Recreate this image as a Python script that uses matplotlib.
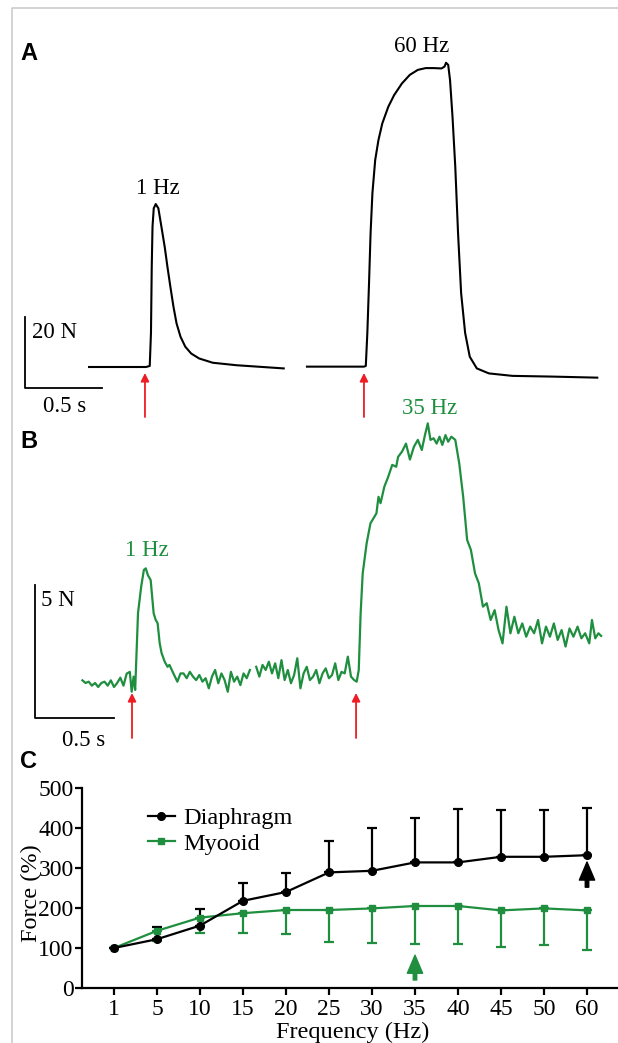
import matplotlib
matplotlib.use('Agg')
import matplotlib.pyplot as plt
from matplotlib.lines import Line2D

plt.rcParams['font.family'] = ['Liberation Serif', 'DejaVu Serif']

GREEN = '#1f8f3f'
RED = '#ee1c25'

# ---- panel A: diaphragm twitch (1 Hz) and tetanus (60 Hz), time in s, force in N
a_twitch_t = [0.416, 0.786, 0.810, 0.818, 0.823, 0.828, 0.836, 0.849, 0.866, 0.887, 0.908,
              0.925, 0.944, 0.964, 0.984, 1.010, 1.041, 1.079, 1.131, 1.219, 1.373, 1.680]
a_twitch_f = [0.0, 0.0, 0.3, 9.6, 28.3, 39.5, 44.7, 45.9, 44.7, 39.2, 33.6,
              28.2, 22.6, 17.0, 12.3, 8.5, 5.7, 3.8, 2.4, 1.2, 0.5, -0.4]
a_tetanus_t = [1.831, 2.201, 2.213, 2.223, 2.234, 2.244, 2.256, 2.274, 2.295, 2.320, 2.359,
               2.397, 2.448, 2.499, 2.551, 2.602, 2.653, 2.704, 2.724, 2.734, 2.748, 2.760,
               2.776, 2.794, 2.812, 2.832, 2.858, 2.888, 2.934, 3.012, 3.165, 3.421, 3.716]
a_tetanus_f = [0.1, 0.1, 0.3, 9.6, 23.7, 37.7, 49.0, 58.3, 63.9, 68.6, 73.3,
               76.6, 79.9, 82.3, 83.7, 84.2, 84.2, 84.1, 84.6, 85.7, 85.1, 80.8,
               70.5, 56.4, 37.7, 20.8, 9.6, 2.9, -0.4, -1.8, -2.5, -2.7, -3.0]
a_stim_t = [0.779, 2.201]

# ---- panel B: myooid twitch (1 Hz) and tetanus (35 Hz)
b_seg1_t = [0.30, 0.32, 0.34, 0.36, 0.38, 0.40, 0.42, 0.44, 0.46, 0.48, 0.50, 0.52, 0.54, 0.56, 0.58,
            0.600, 0.612, 0.624, 0.634, 0.652, 0.672, 0.689, 0.701, 0.714, 0.732, 0.751, 0.764,
            0.776, 0.789, 0.801, 0.821, 0.839, 0.851, 0.876, 0.901, 0.921,
            0.94, 0.96, 0.98, 1.00, 1.02, 1.04, 1.06, 1.08, 1.10, 1.12, 1.14, 1.16, 1.18, 1.20,
            1.22, 1.24, 1.26, 1.28, 1.30, 1.32, 1.34, 1.36]
b_seg1_f = [0.1, 0.0, 0.05, -0.1, 0.0, -0.15, 0.0, 0.05, -0.1, 0.1, -0.15, 0.0, 0.2, -0.1, 0.35,
            0.42, -0.33, 0.24, -0.26, 2.63, 3.62, 4.25, 4.31, 4.06, 3.87, 2.62, 2.37,
            2.25, 1.5, 1.13, 0.8, 0.61, 0.68, 0.36, 0.05, 0.36,
            0.36, 0.18, 0.42, 0.24, 0.11, 0.3, 0.05, 0.18, -0.2, 0.24, 0.49, -0.01, 0.36, 0.11,
            -0.33, 0.42, 0.05, 0.24, -0.08, 0.36, 0.18, 0.49]
b_seg2_t = [1.40, 1.42, 1.44, 1.46, 1.48, 1.50, 1.52, 1.54, 1.56, 1.58, 1.60, 1.62, 1.64, 1.66,
            1.68, 1.70, 1.72, 1.74, 1.76, 1.78, 1.80, 1.82, 1.84, 1.86, 1.88, 1.90, 1.92, 1.94,
            1.96, 1.98, 2.00, 2.02,
            2.036, 2.049, 2.061, 2.074, 2.099, 2.123, 2.136, 2.161, 2.174, 2.187, 2.211, 2.236,
            2.261, 2.286, 2.298, 2.323, 2.348, 2.373, 2.398, 2.423, 2.448, 2.468, 2.486, 2.503,
            2.523, 2.542, 2.560, 2.578, 2.598, 2.615, 2.635, 2.660, 2.685, 2.710, 2.735, 2.759,
            2.785, 2.809, 2.835, 2.859, 2.884, 2.909, 2.934, 2.959, 2.984, 3.009, 3.034, 3.059,
            3.084, 3.109, 3.134, 3.159, 3.184, 3.209, 3.234, 3.259, 3.284, 3.308, 3.333, 3.358,
            3.383, 3.408, 3.434, 3.458, 3.482, 3.508, 3.525, 3.546, 3.566, 3.583]
b_seg2_f = [0.61, 0.24, 0.68, 0.49, 0.8, 0.36, 0.74, 0.18, 0.86, 0.11, 0.49, -0.01, 0.3, 0.93,
            -0.2, 0.36, 0.61, 0.11, 0.24, 0.49, -0.01, 0.36, 0.55, 0.18, 0.3, 0.74, 0.11, 0.42,
            0.36, 0.99, 0.24, 0.11,
            0.05, 0.49, 2.62, 4.12, 5.25, 6.0, 6.13, 6.38, 7.0, 6.76, 7.38, 7.76,
            8.2, 8.13, 8.5, 8.7, 9.0, 8.4, 8.88, 9.14, 8.76, 9.32, 9.76, 9.14,
            9.2, 9.0, 9.26, 8.95, 9.32, 9.07, 9.26, 9.14, 8.26, 7.0, 5.38, 5.0,
            4.12, 3.75, 2.87, 3.0, 2.37, 2.74, 1.99, 1.49, 2.87, 1.87, 2.49, 1.87,
            2.24, 1.74, 2.12, 1.87, 2.37, 1.49, 2.12, 1.74, 2.24, 1.62, 1.99, 1.37,
            2.05, 1.74, 2.12, 1.68, 1.87, 1.49, 2.37, 1.68, 1.87, 1.77]
b_stim_t = [0.614, 2.032]

# ---- panel C: force-frequency
freq_labels = ['1', '5', '10', '15', '20', '25', '30', '35', '40', '45', '50', '60']
diaphragm_mean = [100, 122, 156, 218, 240, 289, 293, 314, 314, 328, 328, 332]
diaphragm_sd = [0, 31, 41, 44, 48, 79, 106, 110, 133, 117, 117, 117]
myooid_mean = [100, 143, 176, 187, 195, 195, 199, 205, 205, 194, 199, 194]
myooid_sd = [0, 25, 38, 50, 59, 79, 87, 96, 95, 91, 92, 99]

W, H = 618, 1043
fig = plt.figure(figsize=(W / 100, H / 100), dpi=100)
TXT = 16.5


def px_axes(x0, y0, x1, y1):
    return fig.add_axes([x0 / W, 1 - y1 / H, (x1 - x0) / W, (y1 - y0) / H])


def trace_axes(top, bottom, x0, y0, sx, sy):
    # axes whose data units map onto the picture: x0/y0 origin pixel, sx/sy px per unit
    ax = px_axes(0, top, W, bottom)
    ax.set_xlim((0 - x0) / sx, (W - x0) / sx)
    ax.set_ylim((y0 - bottom) / sy, (y0 - top) / sy)
    ax.axis('off')
    return ax


def stim_arrows(ax, times, tip, tail):
    for t in times:
        ax.annotate('', xy=(t, tip), xytext=(t, tail),
                    arrowprops=dict(arrowstyle='-|>', color=RED, lw=1.3,
                                    mutation_scale=12, shrinkA=0, shrinkB=0))


# frame lines
fig.add_artist(Line2D([12 / W, 12 / W, 1], [0, 1 - 8 / H, 1 - 8 / H],
                      color='#cccccc', lw=1.2))

# panel A
sxA, syA = 154, 3.55
axA = trace_axes(0, 420, 25, 367, sxA, syA)
axA.plot(a_twitch_t, a_twitch_f, color='k', lw=1.5)
axA.plot(a_tetanus_t, a_tetanus_f, color='k', lw=1.5)
barA = (367 - 388) / syA
axA.plot([0, 0, 0.5], [barA + 20, barA, barA], color='k', lw=1.3)
axA.text(0.045, (367 - 332) / syA, '20 N', fontsize=TXT, va='center', ha='left')
axA.text(0.26, (367 - 407) / syA, '0.5 s', fontsize=TXT, va='center', ha='center')
axA.text(0.864, (367 - 188) / syA, '1 Hz', fontsize=TXT, va='center', ha='center')
axA.text(2.578, (367 - 47) / syA, '60 Hz', fontsize=TXT, va='center', ha='center')
stim_arrows(axA, a_stim_t, (367 - 373) / syA, (367 - 417) / syA)

# panel B
sxB, syB = 158, 26.6
axB = trace_axes(400, 770, 35, 683, sxB, syB)
axB.plot(b_seg1_t, b_seg1_f, color=GREEN, lw=1.6)
axB.plot(b_seg2_t, b_seg2_f, color=GREEN, lw=1.6)
barB = (683 - 718) / syB
axB.plot([0, 0, 0.5], [barB + 5, barB, barB], color='k', lw=1.3)
axB.text(0.038, (683 - 600) / syB, '5 N', fontsize=TXT, va='center', ha='left')
axB.text(0.307, (683 - 740) / syB, '0.5 s', fontsize=TXT, va='center', ha='center')
axB.text(0.709, (683 - 551) / syB, '1 Hz', fontsize=TXT, va='center', ha='center', color=GREEN)
axB.text(2.5, (683 - 408) / syB, '35 Hz', fontsize=TXT, va='center', ha='center', color=GREEN)
stim_arrows(axB, b_stim_t, (683 - 693) / syB, (683 - 738) / syB)

# panel letters
for letter, base in [('A', 60), ('B', 448), ('C', 768)]:
    fig.text(20 / W, 1 - base / H, letter, fontsize=17, fontweight='bold',
             family='Liberation Sans', va='baseline', ha='left')

# panel C
axC = px_axes(82, 788, 617, 988)
x = list(range(len(freq_labels)))
axC.errorbar(x, myooid_mean, yerr=[myooid_sd, [0] * len(x)], color=GREEN, lw=1.6,
             marker='s', ms=5, capsize=3.5, capthick=1.6, elinewidth=1.6)
axC.errorbar(x, diaphragm_mean, yerr=[[0] * len(x), diaphragm_sd], color='k', lw=1.6,
             marker='o', ms=5.5, capsize=3.5, capthick=1.6, elinewidth=1.6)
axC.set_xlim((82 - 114) / 43, (617 - 114) / 43)
axC.set_ylim(0, 500)
axC.set_xticks(x)
axC.set_xticklabels(freq_labels)
axC.set_yticks([0, 100, 200, 300, 400, 500])
for s in ['top', 'right']:
    axC.spines[s].set_visible(False)
for s in ['left', 'bottom']:
    axC.spines[s].set_linewidth(1.6)
axC.tick_params(direction='out', length=5, width=1.6, labelsize=17)
axC.tick_params(axis='y', pad=1)
axC.tick_params(axis='x', pad=3)
axC.set_ylabel('Force (%)', fontsize=17.5)
axC.yaxis.set_label_coords(-0.075, 0.475)
axC.set_xlabel('Frequency (Hz)', fontsize=17.5)
axC.xaxis.set_label_coords(0.5065, -0.17)
handles = [Line2D([0], [0], color='k', lw=1.6, marker='o', ms=5.5),
           Line2D([0], [0], color=GREEN, lw=1.6, marker='s', ms=5)]
leg = axC.legend(handles, ['Diaphragm', 'Myooid'], loc='center left',
                 bbox_to_anchor=((148 - 82) / 535, 0.785), fontsize=17.5,
                 frameon=False, handlelength=1.1, handletextpad=0.35,
                 borderpad=0, borderaxespad=0, labelspacing=0.15)
for txt in leg.get_texts():
    txt.set_fontfamily('Liberation Serif')
axC.annotate('', xy=(11, 315), xytext=(11, 252),
             arrowprops=dict(color='k', width=2.5, headwidth=11, headlength=13, shrink=0))
axC.annotate('', xy=(7, 82), xytext=(7, 20),
             arrowprops=dict(color=GREEN, width=2.5, headwidth=11, headlength=13, shrink=0))

fig.savefig('out.png', dpi=100)
